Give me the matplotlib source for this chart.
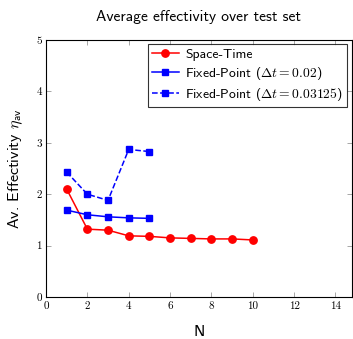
import matplotlib
matplotlib.use("Agg")
import matplotlib.pyplot as plt

N_st = [1, 2, 3, 4, 5, 6, 7, 8, 9, 10]
eff_st = [2.10, 1.32, 1.30, 1.19, 1.18, 1.15, 1.14, 1.13, 1.13, 1.11]
N_fp = [1, 2, 3, 4, 5]
eff_fp002 = [1.69, 1.60, 1.56, 1.54, 1.53]
eff_fp003 = [2.43, 2.00, 1.88, 2.87, 2.83]
labels = ["Space-Time", r"Fixed-Point ($\Delta t = 0.02$)", r"Fixed-Point ($\Delta t = 0.03125$)"]
xticks = [0, 2, 4, 6, 8, 10, 12, 14]
yticks = [0, 1, 2, 3, 4, 5]

plt.rcParams['mathtext.fontset'] = 'cm'
plt.rcParams['font.family'] = ['cmss10', 'DejaVu Sans']
plt.rcParams['axes.unicode_minus'] = False

W, H = 353, 339
fig = plt.figure(figsize=(W/100, H/100), dpi=100)
x0, x1 = 46, 352
ytop, ybot = 40, 297
ax = fig.add_axes([x0/W, (H-ybot)/H, (x1-x0)/W, (ybot-ytop)/H])

ax.plot(N_st, eff_st, '-o', color='red', lw=1.1, ms=5.3, label=labels[0])
ax.plot(N_fp, eff_fp002, '-s', color='blue', lw=1.1, ms=4.8, label=labels[1])
ax.plot(N_fp, eff_fp003, '--s', color='blue', lw=1.1, ms=4.8, label=labels[2])

ax.set_xlim(0, 14.8)
ax.set_ylim(0, 5)
ax.set_xticks(xticks)
ax.set_yticks(yticks)
ax.set_xticklabels([str(t) for t in xticks], family='cmr10', fontsize=8)
ax.set_yticklabels([str(t) for t in yticks], family='cmr10', fontsize=8)
ax.tick_params(direction='in', top=True, right=True, length=3.5, width=0.6, color='#999999', pad=3)
for s in ax.spines.values():
    s.set_linewidth(0.8)

ax.set_title("Average effectivity over test set", fontsize=11.2, pad=14)
ax.set_xlabel("N", fontsize=11.5, labelpad=10)
ax.set_ylabel(r"Av. Effectivity $\eta_{\mathsf{av}}$", fontsize=11.5, labelpad=8)

leg = ax.legend(loc='upper right', bbox_to_anchor=(1 - (x1-347)/(x1-x0), 1-(44-ytop)/(ybot-ytop)),
                fontsize=9.8, frameon=True, fancybox=False, edgecolor='black',
                handlelength=2.0, borderpad=0.3, labelspacing=0.3, handletextpad=0.45, borderaxespad=0)
leg.get_frame().set_linewidth(0.8)

fig.savefig("out.png", dpi=100)
